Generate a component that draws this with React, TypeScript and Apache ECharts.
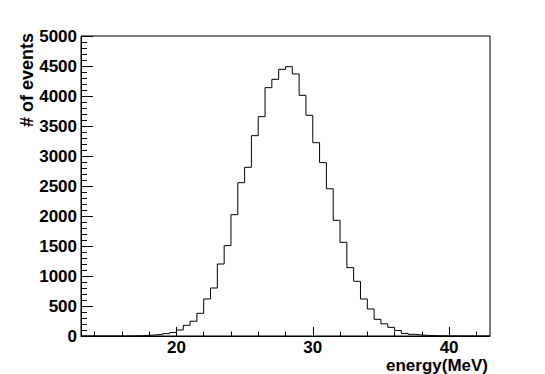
import React, { useEffect, useRef } from "react";
import * as echarts from "echarts";

const binStart = 13;
const binWidth = 0.5;
const binValues = [
  0, 0, 0, 0, 0, 0, 1, 2, 5, 10,
  18, 28, 40, 58, 100, 178, 246, 378, 617, 800,
  1200, 1506, 2022, 2555, 2811, 3339, 3656, 4139, 4278, 4444,
  4489, 4367, 4011, 3678, 3222, 2890, 2453, 1928, 1561, 1139,
  911, 617, 450, 278, 203, 144, 92, 42, 28, 17,
  10, 5, 3, 2, 1, 0, 0, 0, 0, 0,
];
const xMin = 13;
const xMax = 43;
const xMajorTicks = [20, 30, 40];
const xMinorTicks = [14, 16, 18, 22, 24, 26, 28, 32, 34, 36, 38, 42];
const yMin = 0;
const yMax = 5000;
const yInterval = 500;
const xTitle = "energy(MeV)";
const yTitle = "# of events";

const FONT = "'Liberation Sans', Arial, Helvetica, sans-serif";

export default function App() {
  const ref = useRef<HTMLDivElement>(null);
  useEffect(() => {
    const chart = echarts.init(ref.current!, null, { renderer: "svg" });
    const points: number[][] = binValues.map((v, i) => [binStart + i * binWidth, v]);
    points.push([binStart + binValues.length * binWidth, binValues[binValues.length - 1]]);
    const labelStyle = {
      color: "#000",
      fontFamily: FONT,
      fontWeight: "bold" as const,
      fontSize: 17,
    };
    chart.setOption({
      animation: false,
      backgroundColor: "#fff",
      grid: {
        left: 81,
        right: 55,
        top: 36,
        bottom: 38,
        show: true,
        borderColor: "#000",
        borderWidth: 1,
        containLabel: false,
        outerBoundsMode: "none",
      },
      xAxis: [
        {
          type: "value",
          min: xMin,
          max: xMax,
          position: "bottom",
          axisLine: { show: true, onZero: false, lineStyle: { color: "#000", width: 1 } },
          axisTick: {
            show: true,
            inside: true,
            length: 9,
            customValues: xMajorTicks,
            lineStyle: { color: "#000", width: 1 },
          },
          axisLabel: {
            ...labelStyle,
            margin: 3,
            customValues: xMajorTicks,
            formatter: (v: number) => String(v),
          },
          splitLine: { show: false },
        },
        {
          type: "value",
          min: xMin,
          max: xMax,
          position: "bottom",
          offset: 0,
          axisLine: { show: false, onZero: false },
          axisTick: {
            show: true,
            inside: true,
            length: 4.5,
            customValues: xMinorTicks,
            lineStyle: { color: "#000", width: 1 },
          },
          axisLabel: { show: false },
          splitLine: { show: false },
        },
      ],
      yAxis: {
        type: "value",
        min: yMin,
        max: yMax,
        interval: yInterval,
        axisLine: { show: true, onZero: false, lineStyle: { color: "#000", width: 1 } },
        axisTick: { show: true, inside: true, length: 12, lineStyle: { color: "#000", width: 1 } },
        minorTick: { show: true, splitNumber: 5, length: 6, lineStyle: { color: "#000", width: 1 } },
        axisLabel: { ...labelStyle, margin: 4, formatter: (v: number) => String(v) },
        splitLine: { show: false },
        minorSplitLine: { show: false },
      },
      series: [
        {
          type: "line",
          xAxisIndex: 0,
          data: points,
          step: "end",
          symbol: "none",
          silent: true,
          lineStyle: { color: "#000", width: 1 },
        },
      ],
      graphic: [
        {
          type: "text",
          right: 57,
          top: 357,
          style: {
            text: xTitle,
            fill: "#000",
            font: `bold 17px ${FONT}`,
          },
        },
        {
          type: "text",
          x: 27,
          y: 33,
          rotation: Math.PI / 2,
          style: {
            text: yTitle,
            fill: "#000",
            font: `bold 18px ${FONT}`,
            align: "right",
            verticalAlign: "middle",
          },
        },
      ],
    });
    return () => chart.dispose();
  }, []);
  return (
    <div
      ref={ref}
      style={{ position: "fixed", left: 0, top: 0, width: 545, height: 374 }}
    />
  );
}
